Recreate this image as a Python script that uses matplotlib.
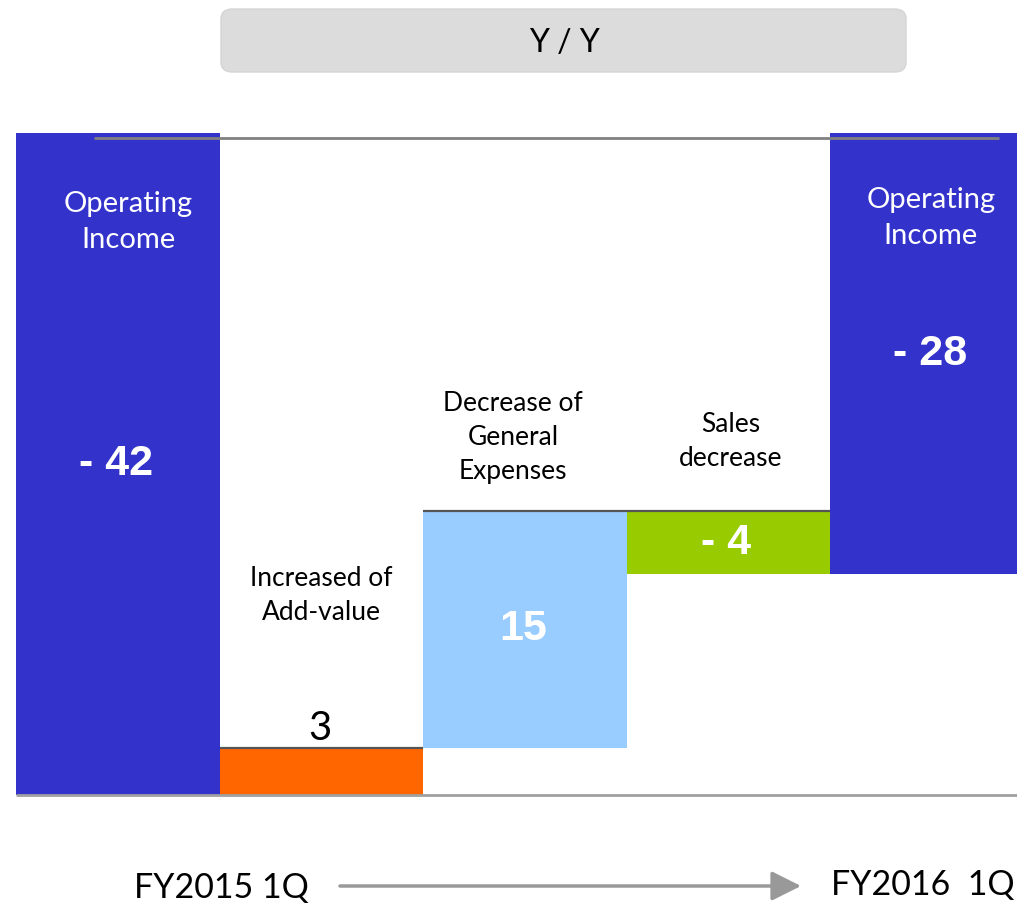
import matplotlib
matplotlib.use("Agg")
import matplotlib.pyplot as plt
from matplotlib.patches import FancyBboxPatch, FancyArrowPatch
import numpy as np

# ---- data ----
categories = ["Operating\nIncome", "Increased of\nAdd-value", "Decrease of\nGeneral\nExpenses",
              "Sales\ndecrease", "Operating\nIncome"]
start_value = -42
changes = [3, 15, -4]
end_value = -28
value_labels = ["- 42", "3", "15", "- 4", "- 28"]
period_labels = ["FY2015 1Q", "FY2016  1Q"]
title_text = "Y / Y"

colors = ["#3333CC", "#FF6600", "#99CCFF", "#99CC00", "#3333CC"]

W, H = 1017, 905
fig = plt.figure(figsize=(W / 100, H / 100), dpi=100)
ax = fig.add_axes([0, 0, 1, 1])
ax.set_axis_off()

# scales: bar i centered at i, width 1
px_per_x = 203.5
x0_px = 118
ax.set_xlim(-x0_px / px_per_x, (W - x0_px) / px_per_x)
top_px, bot_px = 133, 795
px_per_y = (bot_px - top_px) / abs(start_value)
ax.set_ylim(start_value - (H - bot_px) / px_per_y, top_px / px_per_y)

# waterfall geometry from the data
bottoms = [0]
heights = [start_value]
level = start_value
for c in changes:
    bottoms.append(level)
    heights.append(c)
    level += c
bottoms.append(0)
heights.append(end_value)

xs = np.arange(len(categories))
ax.bar(xs, heights, bottom=bottoms, width=1.0, color=colors, linewidth=0, zorder=2)

tops = [max(b, b + h) for b, h in zip(bottoms, heights)]
centers = [b + h / 2 for b, h in zip(bottoms, heights)]

# top edge lines of the floating bars
for i in range(1, len(changes) + 1):
    ax.hlines(tops[i], xs[i] - 0.5, xs[i] + 0.5, color="#555555", lw=1.6, zorder=3)

# reference lines
ax.hlines(-0.3, -0.12, 4.33, color="#808080", lw=2, zorder=4)
ax.hlines(start_value, -0.5, 4.5, color="#A0A0A0", lw=2, zorder=4)

LAB = "Lato"
BOLD = "Liberation Sans"
PT = 72 / 100  # points per pixel

def fpos(x, y):
    return x / W, 1 - y / H

# category texts inside the total bars (fixed layout)
fig.text(*fpos(128, 222), categories[0], color="white", family=LAB, fontsize=21,
         ha="center", va="center", linespacing=1.45)
fig.text(*fpos(931, 218), categories[4], color="white", family=LAB, fontsize=21,
         ha="center", va="center", linespacing=1.45)

# category texts above the floating bars
cat_offsets_px = {1: 152, 2: 74, 3: 70}
cat_x_shift_px = {1: 0, 2: -12, 3: 2}
for i, off in cat_offsets_px.items():
    ax.annotate(categories[i], (xs[i], tops[i]), xytext=(cat_x_shift_px[i] * PT, off * PT),
                textcoords="offset points", color="black", family=LAB, fontsize=19,
                ha="center", va="center", linespacing=1.45)

# value labels at bar centres
for i in [0, 2, 3, 4]:
    ax.text(xs[i] - 0.01, centers[i], value_labels[i], color="white", family=BOLD,
            weight="bold", fontsize=31, ha="center", va="center", zorder=5)
ax.annotate(value_labels[1], (xs[1], tops[1]), xytext=(-2 * PT, 19 * PT),
            textcoords="offset points", color="black", family=LAB, fontsize=29,
            ha="center", va="center")

# title box
bx0, by0, bx1, by1 = 221, 9, 906, 72
box = FancyBboxPatch(fpos(bx0, by1), (bx1 - bx0) / W, (by1 - by0) / H,
                     boxstyle="round,pad=0,rounding_size=0.011",
                     transform=fig.transFigure, facecolor="#DCDCDC",
                     edgecolor="#D4D4D4", lw=1)
fig.add_artist(box)
fig.text(*fpos(564, 43), title_text, color="black", family=LAB, fontsize=23,
         ha="center", va="center")

# bottom period labels and arrow
fig.text(*fpos(221, 888), period_labels[0], color="black", family=LAB, fontsize=24.5,
         ha="center", va="center")
fig.text(*fpos(923, 885), period_labels[1], color="black", family=LAB, fontsize=24.5,
         ha="center", va="center")
arrow = FancyArrowPatch(fpos(340, 886), fpos(801, 886), transform=fig.transFigure,
                        arrowstyle="-|>,head_length=1.0,head_width=0.5",
                        color="#999999", lw=2.5, mutation_scale=18, shrinkA=0, shrinkB=0)
fig.add_artist(arrow)

fig.savefig("out.png", dpi=100)
